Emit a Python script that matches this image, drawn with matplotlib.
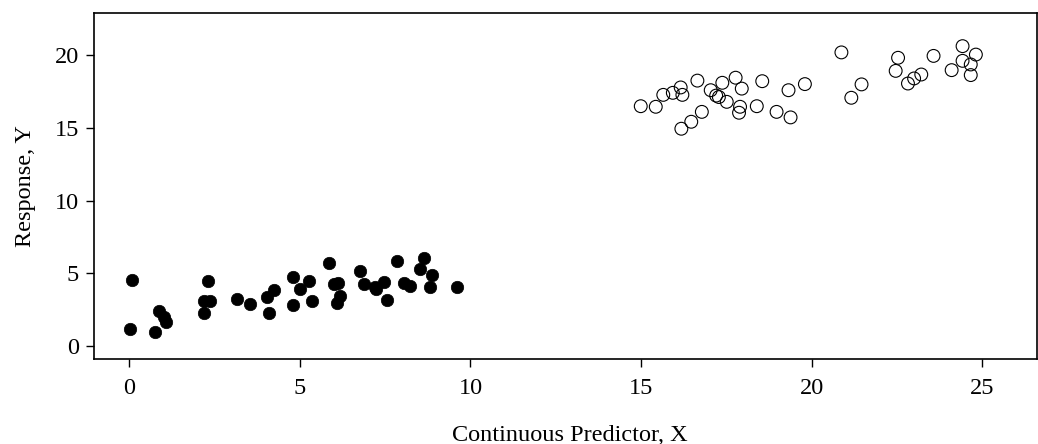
import matplotlib
matplotlib.use("Agg")
import matplotlib.pyplot as plt

# Group A (filled markers)
xa = [0.08, 0.03, 0.77, 0.86, 1.01, 1.09, 2.31, 2.18, 2.36, 2.20, 3.16, 3.55,
      4.04, 4.23, 4.10, 4.80, 4.79, 5.01, 5.26, 5.35, 5.86, 5.99, 6.11, 6.19,
      6.09, 6.75, 6.87, 7.21, 7.24, 7.46, 7.54, 7.85, 8.04, 8.22, 8.53, 8.65,
      8.87, 8.80, 9.61]
ya = [4.54, 1.19, 0.98, 2.43, 1.97, 1.65, 4.49, 3.11, 3.11, 2.25, 3.21, 2.89,
      3.39, 3.85, 2.29, 4.72, 2.80, 3.92, 4.49, 3.09, 5.73, 4.26, 4.31, 3.44,
      2.98, 5.13, 4.26, 4.03, 3.89, 4.42, 3.16, 5.86, 4.35, 4.12, 5.29, 6.07,
      4.88, 4.08, 4.08]

# Group B (open markers)
xb = [14.99, 15.43, 15.65, 15.93, 16.16, 16.21, 16.65, 16.47, 16.18, 16.78,
      17.04, 17.20, 17.28, 17.38, 17.51, 17.77, 17.95, 17.90, 17.87, 18.39,
      18.55, 18.97, 19.38, 19.32, 19.80,
      20.87, 21.46, 21.16, 22.53, 22.46, 22.82, 23.00, 23.21, 23.57, 24.10,
      24.42, 24.42, 24.66, 24.81, 24.66]
yb = [16.49, 16.45, 17.27, 17.41, 17.78, 17.27, 18.25, 15.42, 14.94, 16.10,
      17.59, 17.22, 17.12, 18.10, 16.79, 18.45, 17.70, 16.45, 16.04, 16.49,
      18.21, 16.10, 15.72, 17.59, 18.01,
      20.19, 17.99, 17.07, 19.82, 18.92, 18.05, 18.40, 18.67, 19.95, 18.97,
      20.62, 19.61, 19.36, 20.04, 18.63]

xticks = [0, 5, 10, 15, 20, 25]
yticks = [0, 5, 10, 15, 20]

plt.rcParams['font.family'] = ['Liberation Serif', 'DejaVu Serif']

fig = plt.figure(figsize=(10.38, 4.44), dpi=100)
ax = fig.add_axes([0.0906, 0.1914, 0.9084, 0.7793])

ax.scatter(xa, ya, s=80, color='black', edgecolors='black', linewidths=0.5, zorder=3)
ax.scatter(xb, yb, s=85, facecolors='none', edgecolors='black', linewidths=0.8, zorder=3)

ax.set_xlim(-1.03, 26.6)
ax.set_ylim(-0.9, 22.9)
ax.set_xticks(xticks)
ax.set_yticks(yticks)
ax.tick_params(axis='both', labelsize=17.5, length=6, width=1.0, direction='out')
ax.tick_params(axis='x', pad=8)
ax.tick_params(axis='y', pad=5)
for sp in ax.spines.values():
    sp.set_linewidth(1.2)

ax.set_xlabel('Continuous Predictor, X', fontsize=17.5)
ax.xaxis.set_label_coords(0.505, -0.19)
ax.set_ylabel('Response, Y', fontsize=17.5, labelpad=13)

fig.savefig('out.png', dpi=100)
